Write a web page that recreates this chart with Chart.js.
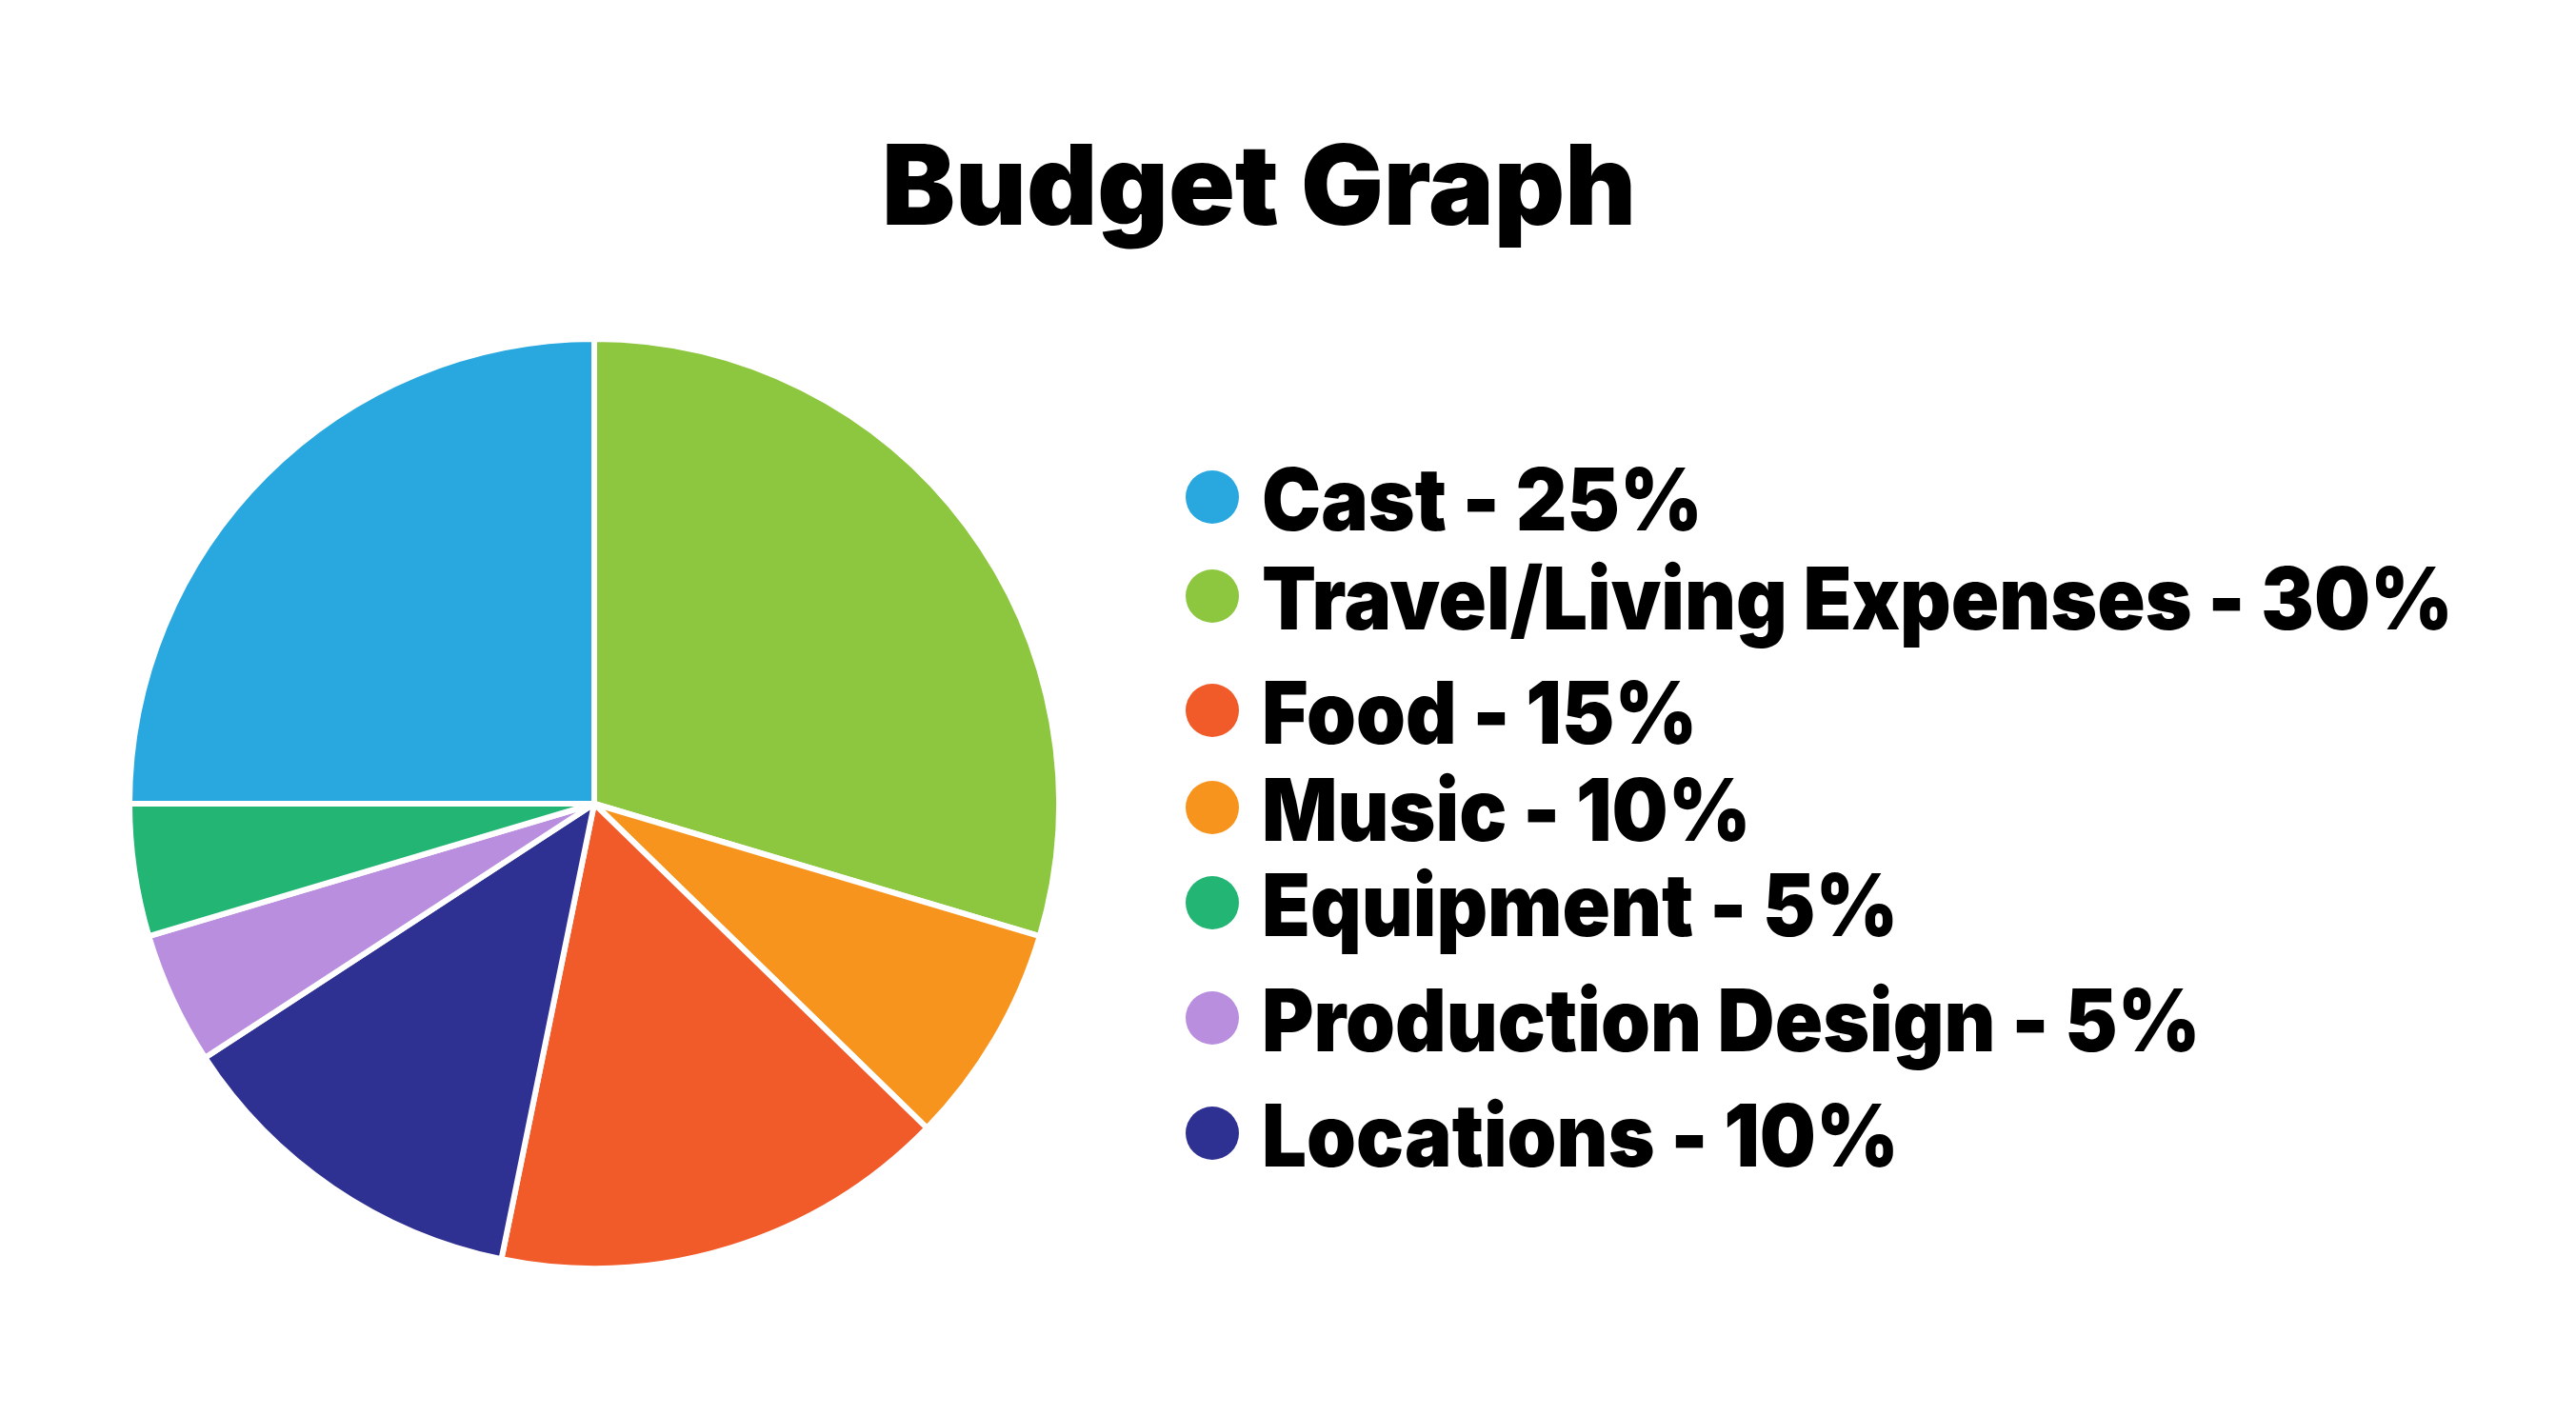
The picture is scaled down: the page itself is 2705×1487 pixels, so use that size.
<!DOCTYPE html>
<html>
<head>
<meta charset="utf-8">
<script src="https://cdn.jsdelivr.net/npm/chart.js@4.4.1/dist/chart.umd.min.js"></script>
<style>
  html, body { margin: 0; padding: 0; background: #fff; }
  #budgetChart { display: block; }
</style>
</head>
<body>
<canvas id="budgetChart" width="2705" height="1487"></canvas>
<script>
// slices in drawing order, clockwise from 12 o'clock
var categories = ['Travel/Living Expenses', 'Music', 'Food', 'Locations', 'Production Design', 'Equipment', 'Cast'];
var values = [29.6, 7.7, 15.9, 12.6, 4.6, 4.6, 25.0];
var colors = ['#8DC63F', '#F7941E', '#F15A29', '#2E3192', '#B98EDF', '#23B574', '#29A8E0'];

// legend as printed in the picture
var legendOrder = ['Cast', 'Travel/Living Expenses', 'Food', 'Music', 'Equipment', 'Production Design', 'Locations'];
var legendPercents = ['25%', '30%', '15%', '10%', '5%', '5%', '10%'];
var titleText = 'Budget Graph';

// legend row baselines (px) - spacing in the original isn't even
var legendBaselines = [557, 661, 781, 883, 983, 1104, 1225];

var textPlugin = {
    id: 'budgetText',
    afterDraw: function (chart) {
        var ctx = chart.ctx;
        ctx.save();
        ctx.fillStyle = '#000';
        ctx.textBaseline = 'alphabetic';

        // title
        ctx.font = '900 117px Inter';
        var tw = ctx.measureText(titleText).width;
        var tsx = 792 / tw;
        ctx.save();
        ctx.translate(1322, 236);
        ctx.scale(tsx, 1);
        ctx.textAlign = 'center';
        ctx.fillText(titleText, 0, 0);
        ctx.restore();

        // legend
        ctx.font = '900 91px Inter';
        var longest = ctx.measureText('Travel/Living Expenses - 30%').width;
        var sx = 1251 / longest;
        ctx.textAlign = 'left';
        legendOrder.forEach(function (name, i) {
            var idx = categories.indexOf(name);
            var y = legendBaselines[i];
            ctx.fillStyle = colors[idx];
            ctx.beginPath();
            ctx.arc(1273, y - 35, 28, 0, Math.PI * 2);
            ctx.fill();
            ctx.fillStyle = '#000';
            ctx.save();
            ctx.translate(1325, y);
            ctx.scale(sx, 1);
            ctx.fillText(name + ' - ' + legendPercents[i], 0, 0);
            ctx.restore();
        });
        ctx.restore();
    }
};

new Chart(document.getElementById('budgetChart').getContext('2d'), {
    type: 'pie',
    data: {
        labels: categories,
        datasets: [{
            data: values,
            backgroundColor: colors,
            borderColor: '#ffffff',
            borderWidth: 6
        }]
    },
    options: {
        responsive: false,
        animation: false,
        layout: {
            padding: { left: 133, right: 1590, top: 351, bottom: 150 }
        },
        plugins: {
            legend: { display: false },
            title: { display: false },
            tooltip: { enabled: false }
        }
    },
    plugins: [textPlugin]
});
</script>
</body>
</html>
